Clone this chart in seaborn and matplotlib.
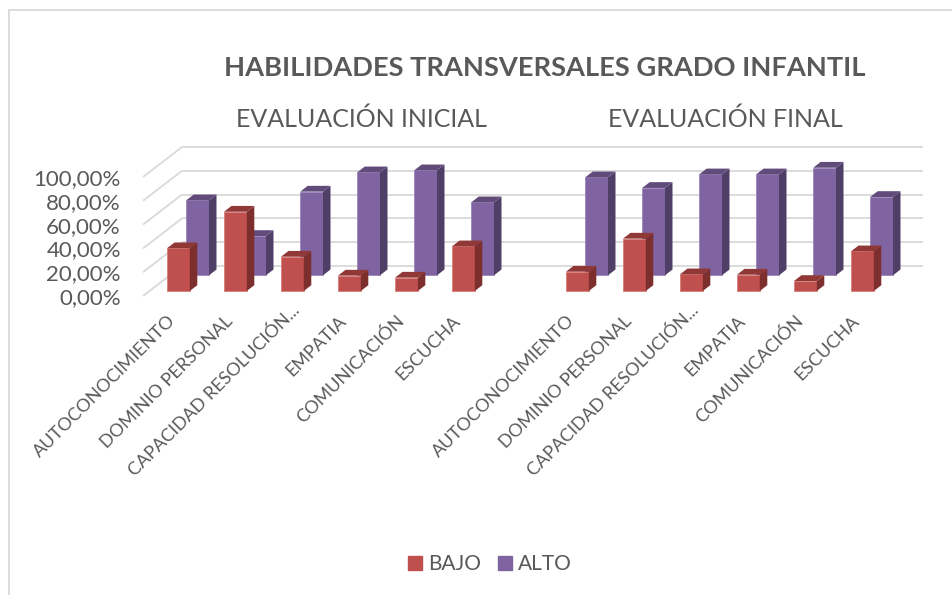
import numpy as np
import pandas as pd
import matplotlib
matplotlib.use("Agg")
import matplotlib.pyplot as plt
from matplotlib.patches import Polygon, Patch
from matplotlib.transforms import ScaledTranslation
import seaborn as sn

categorias = ["AUTOCONOCIMIENTO", "DOMINIO PERSONAL", "CAPACIDAD RESOLUCIÓN...",
              "EMPATIA", "COMUNICACIÓN", "ESCUCHA"]
bajo_inicial = [35.9, 66.6, 28.8, 12.9, 11.2, 37.5]
alto_inicial = [63.0, 33.0, 70.3, 86.5, 88.2, 61.3]
bajo_final = [16.2, 44.0, 14.0, 13.7, 8.4, 33.3]
alto_final = [82.3, 73.4, 84.8, 84.8, 90.4, 65.8]
marcas_y = [0, 20, 40, 60, 80, 100]

W, H = 952, 595
GRIS = "#595959"
ROJO = ["#C0504D", "#7D2F2D", "#8F3836", "#D77E7A"]
MORADO = ["#8064A2", "#4F3F66", "#604B7B", "#9C86B8"]

sn.set_style("white")
plt.rcParams["font.family"] = ["Lato", "DejaVu Sans"]

fig = plt.figure(figsize=(W / 100, H / 100), dpi=100)

# pixels of the front floor of the chart
x0, x1, y0 = 143, 884, 296
px_y = 23.8 / 20
top = 120
ax = fig.add_axes([x0 / W, 1 - y0 / H, (x1 - x0) / W, top * px_y / H])
px_x = (x1 - x0) / 13

# slot 6 stays empty between both groups
slots = list(range(6)) + list(range(7, 13))
df = pd.DataFrame({"slot": slots,
                   "bajo": bajo_inicial + bajo_final,
                   "alto": alto_inicial + alto_final})


def barras_3d(col, colores, dx, dy, z):
    n = len(ax.patches)
    sn.barplot(data=df, x="slot", y=col, order=list(range(13)), color=colores[0],
               saturation=1, width=0.4, ax=ax, zorder=z)
    fx, fy = 7.5 / px_x, 5.8 / px_y
    for p in ax.patches[n:]:
        if np.isnan(p.get_height()):
            continue
        p.set_x(p.get_x() + dx / px_x)
        p.set_y(dy / px_y)
        p.set_edgecolor(colores[3])
        p.set_linewidth(0.6)
        a, b = p.get_x(), p.get_x() + p.get_width()
        c, d = p.get_y(), p.get_y() + p.get_height()
        ax.add_patch(Polygon([(b, c), (b + fx, c + fy), (b + fx, d + fy), (b, d)],
                             fc=colores[1], ec="none", zorder=z, clip_on=False))
        ax.add_patch(Polygon([(a, d), (b, d), (b + fx, d + fy), (a + fx, d + fy)],
                             fc=colores[2], ec="none", zorder=z, clip_on=False))
        p.set_clip_on(False)


# back wall and the left side of the floor
izq = -0.5
for v in marcas_y:
    ax.plot([izq, izq + 39 / px_x], [v, v + 30 / px_y], color="#d9d9d9", lw=1.3,
            clip_on=False, zorder=1, solid_capstyle="butt")
    ax.plot([izq + 39 / px_x, 12.5 + 39 / px_x], [v + 30 / px_y] * 2, color="#d9d9d9", lw=1.3,
            clip_on=False, zorder=1, solid_capstyle="butt")

barras_3d("alto", MORADO, 26.1, 20.7, 3)
barras_3d("bajo", ROJO, 6.9, 5, 4)

ax.set_xlim(-0.5, 12.5)
ax.set_ylim(0, top)
ax.set_xlabel("")
ax.set_ylabel("")
sn.despine(ax=ax, left=True, bottom=True)
ax.patch.set_alpha(0)

ax.set_yticks(marcas_y)
ax.set_yticklabels([f"{v},00%" for v in marcas_y], fontsize=16, color=GRIS)
ax.set_xticks(slots)
ax.set_xticklabels(categorias + categorias, fontsize=13, color=GRIS, rotation=45,
                   ha="right", va="top", rotation_mode="anchor")
ax.tick_params(axis="both", length=0)
ax.tick_params(axis="y", pad=16)
ax.tick_params(axis="x", pad=12)
corre = ScaledTranslation(-4 / 100, 0, fig.dpi_scale_trans)
corre_largo = ScaledTranslation(6 / 100, 11 / 100, fig.dpi_scale_trans)
for t in ax.get_xticklabels():
    # the truncated label sits higher in the original
    t.set_transform(t.get_transform() + (corre_largo if t.get_text().endswith("...") else corre))

fig.text(545 / W, 1 - 68 / H, "HABILIDADES TRANSVERSALES GRADO INFANTIL", fontsize=19.6,
         fontweight="bold", color=GRIS, ha="center", va="center")
fig.text(361 / W, 1 - 119 / H, "EVALUACIÓN INICIAL", fontsize=18, color=GRIS,
         ha="center", va="center")
fig.text(725 / W, 1 - 119 / H, "EVALUACIÓN FINAL", fontsize=18, color=GRIS,
         ha="center", va="center")

fig.legend(handles=[Patch(color=ROJO[0], label="BAJO"), Patch(color=MORADO[0], label="ALTO")],
           loc="center", bbox_to_anchor=(490 / W, 1 - 564 / H), ncol=2, frameon=False,
           fontsize=15, labelcolor=GRIS, handlelength=0.67, handleheight=0.67,
           handletextpad=0.3, columnspacing=0.8)

# outer border of the chart
fig.add_artist(plt.Line2D([8.5 / W, 8.5 / W], [0, 1 - 10 / H], color="#d9d9d9", lw=1.3))
fig.add_artist(plt.Line2D([8.5 / W, 1], [1 - 10 / H, 1 - 10 / H], color="#d9d9d9", lw=1.3))

fig.savefig("out.png", dpi=100)
